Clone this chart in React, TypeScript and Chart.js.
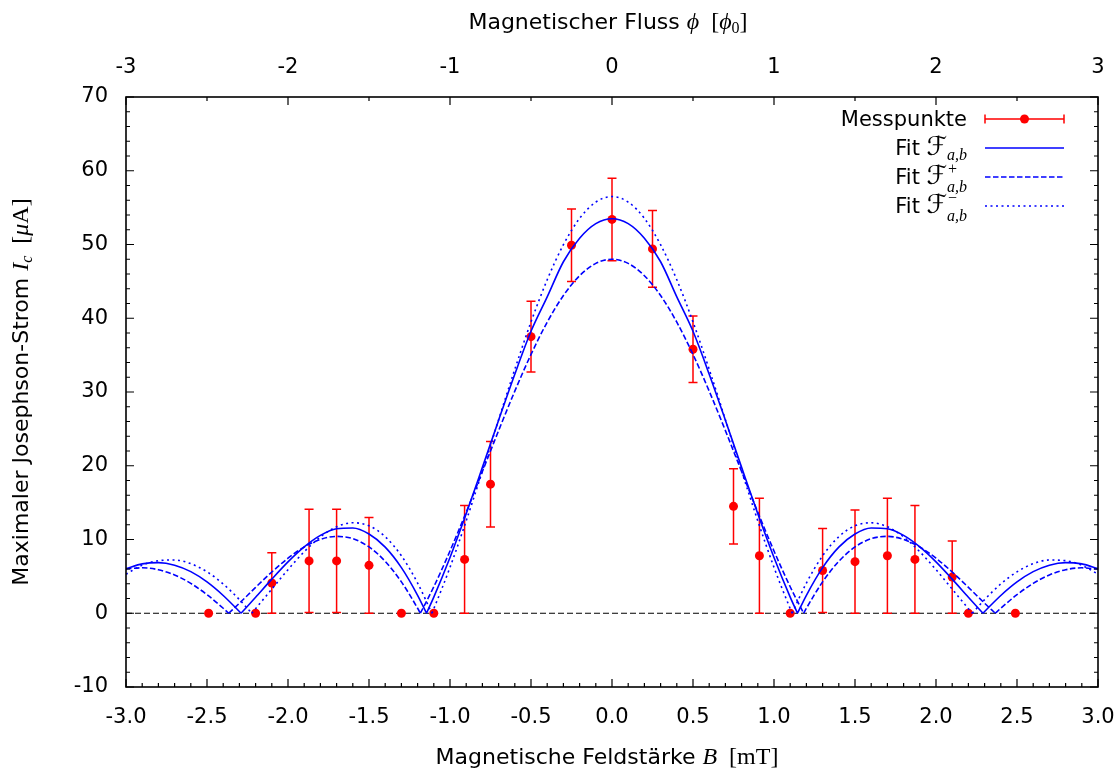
import { useEffect, useRef } from 'react';
import { Chart, registerables } from 'chart.js';

Chart.register(...registerables);

// ---------- data ----------
const fieldGrid = [
  -3.0, -2.9, -2.8, -2.7, -2.6, -2.5, -2.4, -2.3, -2.2, -2.1,
  -2.0, -1.9, -1.8, -1.7, -1.6, -1.5, -1.4, -1.3, -1.2, -1.1,
  -1.0, -0.9, -0.8, -0.7, -0.6, -0.5, -0.4, -0.3, -0.2, -0.1,
  0.0,
  0.1, 0.2, 0.3, 0.4, 0.5, 0.6, 0.7, 0.8, 0.9, 1.0,
  1.1, 1.2, 1.3, 1.4, 1.5, 1.6, 1.7, 1.8, 1.9, 2.0,
  2.1, 2.2, 2.3, 2.4, 2.5, 2.6, 2.7, 2.8, 2.9, 3.0,
];

// Fit F_{a,b} (solid)
const fitMain = [
  6.04, 6.69, 6.86, 6.52, 5.64, 4.25, 2.41, 0.23, 2.17, 4.63,
  6.97, 9.0, 10.56, 11.46, 11.56, 10.75, 8.97, 6.19, 2.44, 2.18,
  7.56, 13.49, 19.78, 26.17, 32.41, 38.23, 42.9, 47.66, 50.85, 52.83,
  53.5,
  52.83, 50.85, 47.66, 42.9, 38.23, 32.41, 26.17, 19.78, 13.49, 7.56,
  2.18, 2.44, 6.19, 8.97, 10.75, 11.56, 11.46, 10.56, 9.0, 6.97,
  4.63, 2.17, 0.23, 2.41, 4.25, 5.64, 6.52, 6.86, 6.69, 6.04,
];
const fitMainZeros = [-2.29, -1.145, 1.145, 2.29];

// Fit F+_{a,b} (dashed)
const fitPlus = [
  5.99, 6.16, 5.9, 5.19, 4.05, 2.52, 0.68, 1.36, 3.51, 5.59,
  7.46, 8.99, 10.02, 10.42, 10.11, 8.99, 7.04, 4.25, 0.68, 3.59,
  8.44, 13.71, 19.22, 24.76, 30.12, 35.09, 39.47, 43.08, 45.77, 47.44,
  48.0,
  47.44, 45.77, 43.08, 39.47, 35.09, 30.12, 24.76, 19.22, 13.71, 8.44,
  3.59, 0.68, 4.25, 7.04, 8.99, 10.11, 10.42, 10.02, 8.99, 7.46,
  5.59, 3.51, 1.36, 0.68, 2.52, 4.05, 5.19, 5.9, 6.16, 5.99,
];
const fitPlusZeros = [-2.366, -1.183, 1.183, 2.366];

// Fit F-_{a,b} (dotted)
const fitMinus = [
  5.3, 6.5, 7.13, 7.22, 6.72, 5.62, 3.97, 1.85, 0.62, 3.27,
  5.91, 8.34, 10.35, 11.72, 12.27, 11.86, 10.38, 7.79, 4.1, 0.62,
  6.22, 12.53, 19.29, 26.24, 33.07, 39.5, 45.22, 49.97, 53.54, 55.75,
  56.5,
  55.75, 53.54, 49.97, 45.22, 39.5, 33.07, 26.24, 19.29, 12.53, 6.22,
  0.62, 4.1, 7.79, 10.38, 11.86, 12.27, 11.72, 10.35, 8.34, 5.91,
  3.27, 0.62, 1.85, 3.97, 5.62, 6.72, 7.22, 7.13, 6.5, 5.3,
];
const fitMinusZeros = [-2.224, -1.112, 1.112, 2.224];

// Messpunkte
const measB = [
  -2.49, -2.2, -2.1, -1.87, -1.7, -1.5, -1.3, -1.1, -0.91, -0.75, -0.5, -0.25,
  0, 0.25, 0.5, 0.75, 0.91, 1.1, 1.3, 1.5, 1.7, 1.87, 2.1, 2.2, 2.49,
];
const measI = [
  0, 0, 4.1, 7.1, 7.1, 6.5, 0, 0, 7.3, 17.5, 37.5, 49.9,
  53.4, 49.4, 35.8, 14.5, 7.8, 0, 5.8, 7.0, 7.8, 7.3, 4.9, 0, 0,
];
const measErr = [
  0, 0, 4.1, 7.0, 7.0, 6.5, 0, 0, 7.3, 5.8, 4.8, 4.9,
  5.6, 5.2, 4.5, 5.1, 7.8, 0, 5.7, 7.0, 7.8, 7.3, 4.9, 0, 0,
];

// ticks
const fieldTicks = [-3, -2.5, -2, -1.5, -1, -0.5, 0, 0.5, 1, 1.5, 2, 2.5, 3];
const fieldMinorTicks = [
  -2.9, -2.8, -2.7, -2.6, -2.4, -2.3, -2.2, -2.1, -1.9, -1.8, -1.7, -1.6,
  -1.4, -1.3, -1.2, -1.1, -0.9, -0.8, -0.7, -0.6, -0.4, -0.3, -0.2, -0.1,
  0.1, 0.2, 0.3, 0.4, 0.6, 0.7, 0.8, 0.9, 1.1, 1.2, 1.3, 1.4,
  1.6, 1.7, 1.8, 1.9, 2.1, 2.2, 2.3, 2.4, 2.6, 2.7, 2.8, 2.9,
];
const fluxTicks = [-3, -2, -1, 0, 1, 2, 3];
const fluxMinorTicks = [-2.5, -1.5, -0.5, 0.5, 1.5, 2.5];
const currentTicks = [-10, 0, 10, 20, 30, 40, 50, 60, 70];
const currentMinorTicks = [-8, -6, -4, -2, 2, 4, 6, 8, 12, 14, 16, 18, 22, 24, 26, 28, 32, 34, 36, 38, 42, 44, 46, 48, 52, 54, 56, 58, 62, 64, 66, 68];

// ---------- styling ----------
const SANS = "'DejaVu Sans', sans-serif";
const SERIF = "'Liberation Serif', 'DejaVu Serif', serif";
const SCRIPT = "'DejaVu Sans', 'DejaVu Serif', serif";
const BLUE = '#0000ff';
const RED = '#ff0000';
const DASH_PLUS = [5.5, 2.5];
const DASH_MINUS = [2, 3.5];

type Run = { t?: string; f: string; dy?: number; sup?: string; sub?: string; supDy?: number; subDy?: number };

function runWidth(ctx: CanvasRenderingContext2D, r: Run): number {
  ctx.font = r.f;
  if (r.sup !== undefined || r.sub !== undefined) {
    return Math.max(ctx.measureText(r.sup || '').width, ctx.measureText(r.sub || '').width);
  }
  return ctx.measureText(r.t || '').width;
}

function drawRuns(ctx: CanvasRenderingContext2D, runs: Run[], x: number, y: number, align: 'left' | 'center' | 'right') {
  let total = 0;
  for (const r of runs) total += runWidth(ctx, r);
  let cx = align === 'center' ? x - total / 2 : align === 'right' ? x - total : x;
  ctx.textAlign = 'left';
  ctx.textBaseline = 'alphabetic';
  for (const r of runs) {
    const w = runWidth(ctx, r);
    ctx.font = r.f;
    if (r.sup !== undefined || r.sub !== undefined) {
      if (r.sup) ctx.fillText(r.sup, cx, y + (r.supDy || 0));
      if (r.sub) ctx.fillText(r.sub, cx, y + (r.subDy || 0));
    } else {
      ctx.fillText(r.t || '', cx, y + (r.dy || 0));
    }
    cx += w;
  }
}

// merge sampled values with the cusp zeros; each lobe becomes its own segment
function buildCurve(grid: number[], vals: number[], zeros: number[]) {
  const pts: { x: number; y: number | null; z?: boolean }[] = grid.map((x, i) => ({ x, y: vals[i] }));
  zeros.forEach((z) => pts.push({ x: z, y: 0, z: true }));
  pts.sort((a, b) => a.x - b.x);
  const out: { x: number; y: number | null }[] = [];
  pts.forEach((p) => {
    if (p.z) {
      out.push({ x: p.x, y: 0 });
      out.push({ x: p.x, y: null });
      out.push({ x: p.x, y: 0 });
    } else {
      out.push({ x: p.x, y: p.y });
    }
  });
  return out;
}

const decorPlugin = {
  id: 'decor',
  beforeDatasetsDraw(chart: any) {
    const { ctx, chartArea: a, scales } = chart;
    const xs = scales.x;
    const ys = scales.y;
    ctx.save();
    const y0 = ys.getPixelForValue(0);
    ctx.strokeStyle = '#000';
    ctx.lineWidth = 1;
    ctx.setLineDash([6, 3]);
    ctx.beginPath();
    ctx.moveTo(a.left, y0);
    ctx.lineTo(a.right, y0);
    ctx.stroke();
    ctx.setLineDash([]);
    ctx.strokeStyle = RED;
    ctx.lineWidth = 1.5;
    measB.forEach((b, i) => {
      const e = measErr[i];
      if (!e) return;
      const px = xs.getPixelForValue(b);
      const top = ys.getPixelForValue(measI[i] + e);
      const bot = ys.getPixelForValue(measI[i] - e);
      ctx.beginPath();
      ctx.moveTo(px, top);
      ctx.lineTo(px, bot);
      ctx.moveTo(px - 4.5, top);
      ctx.lineTo(px + 4.5, top);
      ctx.moveTo(px - 4.5, bot);
      ctx.lineTo(px + 4.5, bot);
      ctx.stroke();
    });
    ctx.restore();
  },
  afterDraw(chart: any) {
    const { ctx, chartArea: a, scales } = chart;
    const xs = scales.x;
    const x2 = scales.x2;
    const ys = scales.y;
    ctx.save();
    ctx.strokeStyle = '#000';
    ctx.lineWidth = 1.2;
    ctx.beginPath();
    const tick = (x1: number, y1: number, x2p: number, y2p: number) => {
      ctx.moveTo(x1, y1);
      ctx.lineTo(x2p, y2p);
    };
    fieldTicks.forEach((v) => { const p = xs.getPixelForValue(v); tick(p, a.bottom, p, a.bottom - 8); });
    fieldMinorTicks.forEach((v) => { const p = xs.getPixelForValue(v); tick(p, a.bottom, p, a.bottom - 4); });
    fluxTicks.forEach((v) => { const p = x2.getPixelForValue(v); tick(p, a.top, p, a.top + 8); });
    fluxMinorTicks.forEach((v) => { const p = x2.getPixelForValue(v); tick(p, a.top, p, a.top + 4); });
    currentTicks.forEach((v) => {
      const p = ys.getPixelForValue(v);
      tick(a.left, p, a.left + 8, p);
      tick(a.right, p, a.right - 8, p);
    });
    currentMinorTicks.forEach((v) => {
      const p = ys.getPixelForValue(v);
      tick(a.left, p, a.left + 4, p);
      tick(a.right, p, a.right - 4, p);
    });
    ctx.stroke();
    ctx.lineWidth = 1.6;
    ctx.strokeRect(a.left, a.top, a.right - a.left, a.bottom - a.top);

    // titles
    ctx.fillStyle = '#000';
    const sans = `21px ${SANS}`;
    const tsans = `22px ${SANS}`;
    const mi = `italic 24px ${SERIF}`;
    const mr = `24px ${SERIF}`;
    const msub = `16px ${SERIF}`;
    const msubi = `italic 16px ${SERIF}`;
    drawRuns(ctx, [
      { t: 'Magnetische Feldstärke ', f: tsans },
      { t: 'B', f: mi },
      { t: '  ', f: mr },
      { t: '[mT]', f: mr },
    ], 607, 764, 'center');
    drawRuns(ctx, [
      { t: 'Magnetischer Fluss ', f: tsans },
      { t: 'ϕ', f: mi },
      { t: '  ', f: mr },
      { t: '[', f: mr },
      { t: 'ϕ', f: mi },
      { t: '0', f: msub, dy: 4 },
      { t: ']', f: mr },
    ], 608, 29, 'center');
    ctx.save();
    ctx.translate(28, 392);
    ctx.rotate(-Math.PI / 2);
    drawRuns(ctx, [
      { t: 'Maximaler Josephson-Strom ', f: tsans },
      { t: 'I', f: mi },
      { t: 'c', f: msubi, dy: 4 },
      { t: '  ', f: mr },
      { t: '[', f: mr },
      { t: 'μ', f: mi },
      { t: 'A]', f: mr },
    ], 0, 0, 'center');
    ctx.restore();

    // legend
    const lx0 = 985;
    const lx1 = 1064;
    const textRight = 967;
    const scr = `26px ${SCRIPT}`;
    const rows: { y: number; runs: Run[] }[] = [
      { y: 119, runs: [{ t: 'Messpunkte', f: sans }] },
      { y: 148, runs: [{ t: 'Fit ', f: sans }, { t: 'ℱ', f: scr }, { t: 'a,b', f: msubi, dy: 5 }] },
      { y: 177, runs: [{ t: 'Fit ', f: sans }, { t: 'ℱ', f: scr }, { f: msubi, sup: '+', sub: 'a,b', supDy: -10, subDy: 8 }] },
      { y: 206, runs: [{ t: 'Fit ', f: sans }, { t: 'ℱ', f: scr }, { f: msubi, sup: '−', sub: 'a,b', supDy: -10, subDy: 8 }] },
    ];
    rows.forEach((r) => drawRuns(ctx, r.runs, textRight, r.y + 7, 'right'));

    ctx.strokeStyle = RED;
    ctx.lineWidth = 1.5;
    ctx.beginPath();
    ctx.moveTo(lx0, 119); ctx.lineTo(lx1, 119);
    ctx.moveTo(lx0, 114.5); ctx.lineTo(lx0, 123.5);
    ctx.moveTo(lx1, 114.5); ctx.lineTo(lx1, 123.5);
    ctx.stroke();
    ctx.fillStyle = RED;
    ctx.beginPath();
    ctx.arc((lx0 + lx1) / 2, 119, 4.5, 0, Math.PI * 2);
    ctx.fill();
    ctx.strokeStyle = BLUE;
    ctx.lineWidth = 1.6;
    const sample = (y: number, dash: number[]) => {
      ctx.setLineDash(dash);
      ctx.beginPath();
      ctx.moveTo(lx0, y);
      ctx.lineTo(lx1, y);
      ctx.stroke();
    };
    sample(148, []);
    sample(177, DASH_PLUS);
    sample(206, DASH_MINUS);
    ctx.setLineDash([]);
    ctx.restore();
  },
};

const noSidePadding = (s: any) => {
  s.paddingLeft = 0;
  s.paddingRight = 0;
};

export default function App() {
  const ref = useRef<HTMLCanvasElement | null>(null);
  useEffect(() => {
    if (!ref.current) return;
    const tickFont = { family: 'DejaVu Sans', size: 21 };
    const fitStyle = {
      showLine: true,
      borderColor: BLUE,
      borderWidth: 1.6,
      pointRadius: 0,
      cubicInterpolationMode: 'monotone',
      spanGaps: false,
    };
    const chart = new Chart(ref.current, {
      type: 'scatter',
      data: {
        datasets: [
          { ...fitStyle, label: 'Fit F_{a,b}', data: buildCurve(fieldGrid, fitMain, fitMainZeros) },
          { ...fitStyle, label: 'Fit F+_{a,b}', data: buildCurve(fieldGrid, fitPlus, fitPlusZeros), borderDash: DASH_PLUS },
          { ...fitStyle, label: 'Fit F-_{a,b}', data: buildCurve(fieldGrid, fitMinus, fitMinusZeros), borderDash: DASH_MINUS },
          {
            label: 'Messpunkte',
            data: measB.map((b, i) => ({ x: b, y: measI[i] })),
            showLine: false,
            pointRadius: 4.5,
            pointBorderWidth: 0,
            pointBackgroundColor: RED,
            pointBorderColor: RED,
            backgroundColor: RED,
            borderColor: RED,
          },
        ],
      } as any,
      options: {
        animation: false,
        responsive: false,
        maintainAspectRatio: false,
        layout: { padding: { left: 0, right: 22, top: 0, bottom: 0 } },
        plugins: {
          legend: { display: false },
          tooltip: { enabled: false },
          title: { display: false },
        },
        scales: {
          x: {
            type: 'linear',
            position: 'bottom',
            min: -3,
            max: 3,
            afterBuildTicks: (s: any) => { s.ticks = fieldTicks.map((v) => ({ value: v })); },
            afterFit: (s: any) => { s.height = 87; noSidePadding(s); },
            grid: { display: false, drawTicks: false },
            border: { display: false },
            ticks: {
              font: tickFont,
              color: '#000',
              padding: 18,
              autoSkip: false,
              maxRotation: 0,
              callback: (v: any) => Number(v).toFixed(1),
            },
          },
          x2: {
            type: 'linear',
            position: 'top',
            min: -3,
            max: 3,
            afterBuildTicks: (s: any) => { s.ticks = fluxTicks.map((v) => ({ value: v })); },
            afterFit: (s: any) => { s.height = 97; noSidePadding(s); },
            grid: { display: false, drawTicks: false },
            border: { display: false },
            ticks: {
              font: tickFont,
              color: '#000',
              padding: 17,
              autoSkip: false,
              maxRotation: 0,
              callback: (v: any) => String(v),
            },
          },
          y: {
            type: 'linear',
            position: 'left',
            min: -10,
            max: 70,
            afterBuildTicks: (s: any) => { s.ticks = currentTicks.map((v) => ({ value: v })); },
            afterFit: (s: any) => { s.width = 126; s.paddingTop = 0; s.paddingBottom = 0; },
            grid: { display: false, drawTicks: false },
            border: { display: false },
            ticks: {
              font: tickFont,
              color: '#000',
              padding: 18,
              autoSkip: false,
              callback: (v: any) => String(v),
            },
          },
        },
      } as any,
      plugins: [decorPlugin],
    });
    return () => chart.destroy();
  }, []);
  return (
    <div style={{ position: 'fixed', left: 0, top: 0, width: 1120, height: 774, background: '#fff' }}>
      <canvas ref={ref} width={1120} height={774} style={{ display: 'block' }} />
    </div>
  );
}
